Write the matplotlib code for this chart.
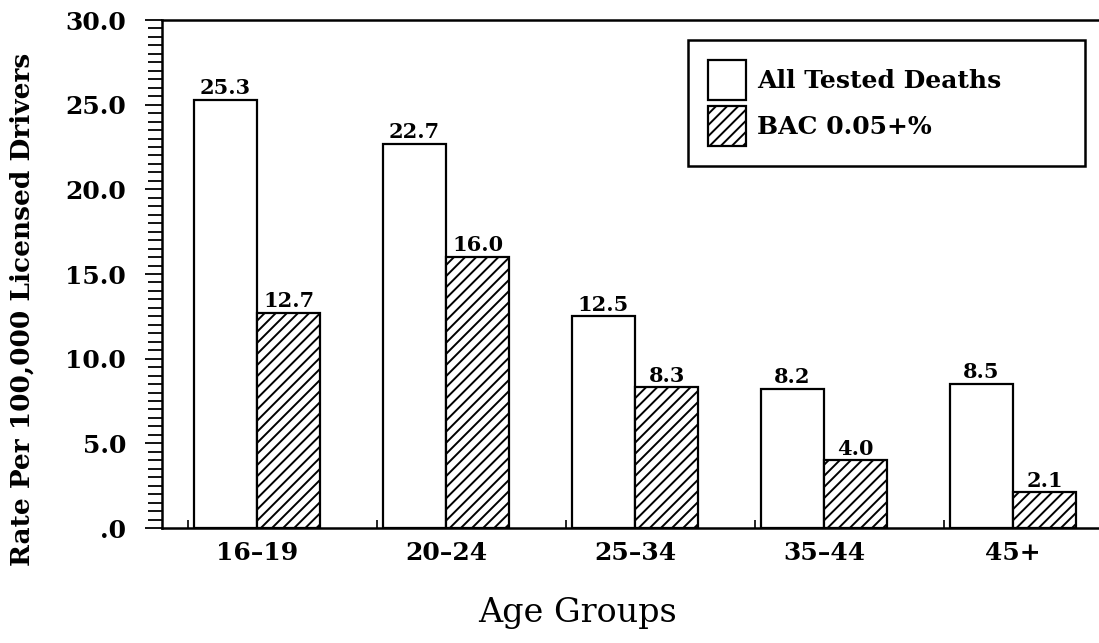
import numpy as np
import matplotlib
matplotlib.use('Agg')
import matplotlib.pyplot as plt
from matplotlib.patches import Patch
from matplotlib.ticker import MultipleLocator, FixedLocator

plt.rcParams['font.family'] = 'DejaVu Serif'
plt.rcParams['hatch.linewidth'] = 1.4

# data
age_groups = ['16\u201319', '20\u201324', '25\u201334', '35\u201344', '45+']
all_tested = [25.3, 22.7, 12.5, 8.2, 8.5]
bac_005 = [12.7, 16.0, 8.3, 4.0, 2.1]
y_ticks = [0, 5, 10, 15, 20, 25, 30]
y_tick_labels = ['.0', '5.0', '10.0', '15.0', '20.0', '25.0', '30.0']

W, H = 1099, 643
fig = plt.figure(figsize=(W / 100, H / 100), dpi=100)
ax = fig.add_axes([162 / W, 1 - 528 / H, 1 - 162 / W, (528 - 20) / H])

x = np.arange(len(age_groups))
bw = 0.335

ax.bar(x - bw / 2, all_tested, bw, color='white', edgecolor='black', linewidth=1.6)
ax.bar(x + bw / 2, bac_005, bw, color='white', edgecolor='black', linewidth=1.6,
       hatch='///')

for xi, v in zip(x, all_tested):
    ax.text(xi - bw / 2, v + 0.1, f'{v:.1f}', ha='center', va='bottom',
            fontsize=15, fontweight='bold')
for xi, v in zip(x, bac_005):
    ax.text(xi + bw / 2, v + 0.1, f'{v:.1f}', ha='center', va='bottom',
            fontsize=15, fontweight='bold')

ax.set_xlim(-0.503, 4.455)
ax.set_ylim(0, 30)

ax.set_yticks(y_ticks)
ax.set_yticklabels(y_tick_labels, fontsize=18, fontweight='bold')
ax.yaxis.set_minor_locator(MultipleLocator(0.5))
ax.tick_params(axis='y', which='major', length=12, width=1.3, direction='out', pad=14)
ax.tick_params(axis='y', which='minor', length=10, width=1.3, direction='out')

ax.set_xticks(x)
ax.set_xticklabels(age_groups, fontsize=18, fontweight='bold')
ax.xaxis.set_minor_locator(FixedLocator(x - 0.365))
ax.tick_params(axis='x', which='major', length=0, pad=9)
ax.tick_params(axis='x', which='minor', length=6, width=1.2, direction='in')

ax.spines['right'].set_visible(False)
for s in ['left', 'top', 'bottom']:
    ax.spines[s].set_linewidth(1.8)

ax.set_ylabel('Rate Per 100,000 Licensed Drivers', fontsize=19,
              fontweight='bold')
ax.yaxis.set_label_coords(-0.1355, 0.43)
fig.text(578 / W, 1 - 613 / H, 'Age Groups', ha='center', va='center',
         fontsize=24)

handles = [Patch(facecolor='white', edgecolor='black', linewidth=1.6),
           Patch(facecolor='white', edgecolor='black', linewidth=1.6, hatch='///')]
leg = fig.legend(handles, ['All Tested Deaths', 'BAC 0.05+%'],
                 loc='upper left',
                 bbox_to_anchor=(688 / W, 1 - 163 / H, (1085 - 688) / W, (163 - 40) / H),
                 mode='expand', borderaxespad=0,
                 prop={'weight': 'bold', 'size': 18},
                 handlelength=1.5, handleheight=2.08, handletextpad=0.45,
                 labelspacing=0.25, borderpad=0.8, fancybox=False,
                 framealpha=1, edgecolor='black')
leg.get_frame().set_linewidth(1.8)

fig.savefig('out.png', dpi=100)
